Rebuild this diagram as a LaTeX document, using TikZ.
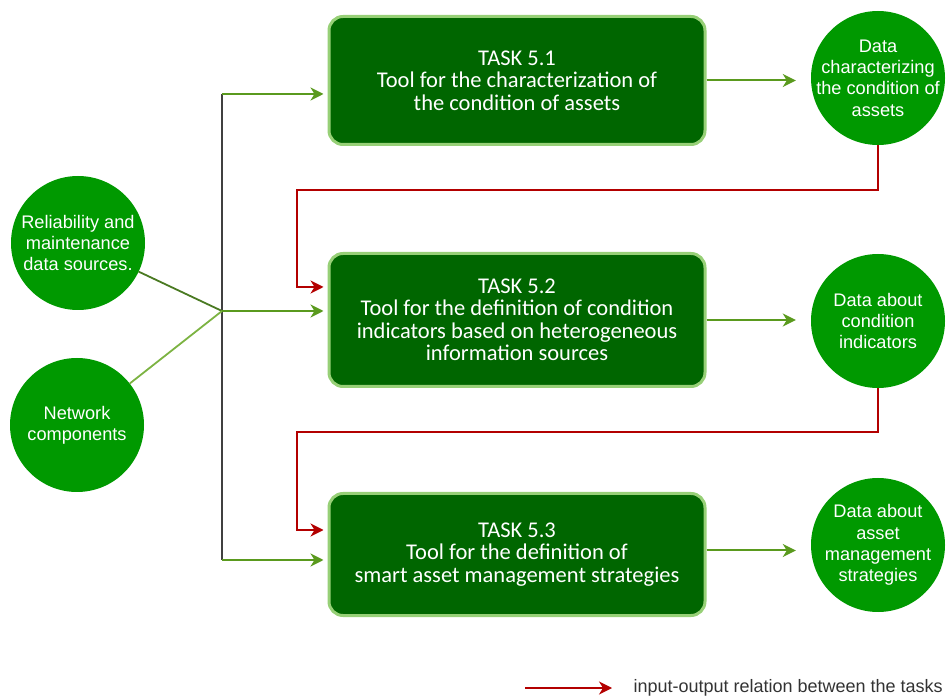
\documentclass[tikz,border=0pt]{standalone}
\usepackage{fontspec}
\newfontfamily\taskfont{Carlito}
\newfontfamily\circfont{Liberation Sans}
\usepackage{tikz}
\usetikzlibrary{
    arrows.meta,
    positioning,
    calc
}
\definecolor{taskgreen}{HTML}{006600}
\definecolor{taskborder}{HTML}{97D077}
\definecolor{circlegreen}{HTML}{009900}
\definecolor{linkgreen}{HTML}{5A9A1E}
\definecolor{sourcedark}{HTML}{4A7A22}
\definecolor{sourcelight}{HTML}{7CB342}
\definecolor{busgray}{HTML}{404040}
\definecolor{iored}{HTML}{B30000}
\definecolor{legendgray}{HTML}{333333}
\tikzset{
    % Nodes
    task box/.style={rectangle,rounded corners=14pt,draw=taskborder,line width=3pt,fill=taskgreen,
        text=white,align=center,minimum width=376pt,inner sep=0pt,
        font=\taskfont\fontsize{22.5}{22.5}\selectfont},
    data circle/.style={circle,fill=circlegreen,minimum size=134pt,inner sep=-8pt,
        text=white,align=center,font=\circfont\fontsize{18.2}{21.3}\selectfont},
    legend text/.style={text=legendgray,font=\circfont\fontsize{18}{20}\selectfont},
    %
    % Arrows
    arrow tip/.tip={Stealth[length=13pt,width=13pt,inset=4pt]},
    arr/.style={->,>={arrow tip}},
    feed arr/.style={arr,draw=linkgreen,line width=2pt},
    io arr/.style={arr,draw=iored,line width=1.4pt},
    bus line/.style={draw=busgray,line width=2pt},
    source line/.style={line width=1.8pt,draw=#1}
}

\begin{document}
\begin{tikzpicture}[x=1pt,y=-1pt]
    \useasboundingbox (0,0) rectangle (946,700);

    % sources
    \node[data circle] (rel) at (78,243) {Reliability and\\maintenance\\data sources.};
    \node[data circle] (net) at (77,425) {Network\\components};

    % tasks
    \node[task box,minimum height=128pt] (t51) at (517,80.5) {TASK 5.1\\Tool for the characterization of\\the condition of assets};
    \node[task box,minimum height=133pt] (t52) at (517,320) {TASK 5.2\\Tool for the definition of condition\\indicators based on heterogeneous\\information sources};
    \node[task box,minimum height=122pt] (t53) at (517,554.5) {TASK 5.3\\Tool for the definition of\\smart asset management strategies};

    % outputs
    \node[data circle] (d51) at (878,78) {Data\\characterizing\\the condition of\\assets};
    \node[data circle] (d52) at (878,321) {Data about\\condition\\indicators};
    \node[data circle] (d53) at (878,545) {Data about\\asset\\management\\strategies};

    % input bus
    \coordinate (hub) at (222,311);
    \coordinate (b1) at (222,94);
    \coordinate (b3) at (222,560);
    \draw[bus line] (b1) -- (b3);
    \draw[source line=sourcedark] (rel) -- (hub);
    \draw[source line=sourcelight] (net) -- (hub);
    \draw[feed arr,shorten >=4pt] (b1) -- (b1 -| t51.west);
    \draw[feed arr,shorten >=4pt] (hub) -- (hub -| t52.west);
    \draw[feed arr,shorten >=4pt] (b3) -- (b3 -| t53.west);

    % outputs of the tasks
    \draw[feed arr,shorten >=15pt] (t51.east) -- (t51.east -| d51.west);
    \draw[feed arr,shorten >=15pt] (t52.east) -- (t52.east -| d52.west);
    \draw[feed arr,shorten >=15pt] ([yshift=4pt]t53.east) -- ([yshift=4pt]t53.east -| d53.west);

    % input-output relations
    \coordinate (r1) at (297,190);
    \coordinate (r2) at (297,432);
    \draw[io arr,shorten >=4pt] (d51.south) |- (r1) |- ([yshift=33pt]t52.west);
    \draw[io arr,shorten >=4pt] (d52.south) |- (r2) |- ([yshift=24.5pt]t53.west);

    % legend
    \coordinate (legA) at (525,688);
    \coordinate (legB) at (612,688);
    \draw[io arr] (legA) -- (legB);
    \node[legend text,anchor=west,right=18pt of legB] (leg) {input-output relation between the tasks};
\end{tikzpicture}
\end{document}
